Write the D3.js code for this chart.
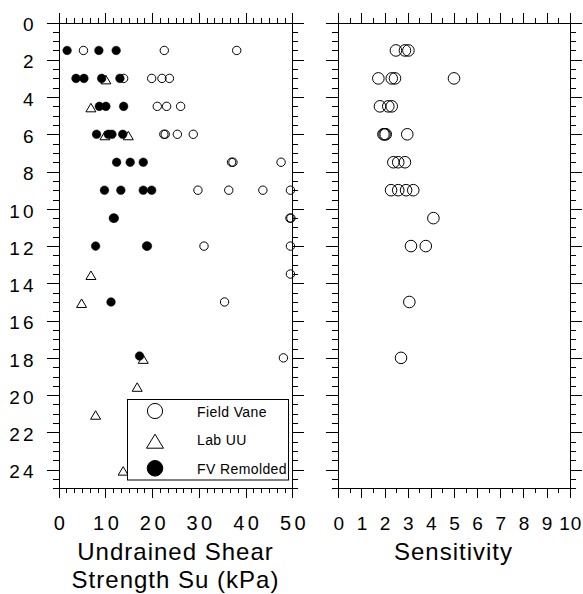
<!DOCTYPE html>
<html><head><meta charset="utf-8">
<script src="https://cdn.jsdelivr.net/npm/d3@7"></script>
<style>
html,body{margin:0;padding:0;background:#fff;}
svg{display:block;}
.ax path,.ax line{stroke:#000;stroke-width:1;shape-rendering:crispEdges;}
text{font-family:"Liberation Sans",Arial,sans-serif;fill:#000;}
</style></head>
<body>
<script>
// ---------- DATA ----------
// Field Vane (open circles): depth (m), Su (kPa)
const fvDepth = [1.5,1.5,1.5, 3,3,3,3, 4.5,4.5,4.5, 6,6,6,6, 7.5,7.5,7.5, 9,9,9,9, 10.5,10.5, 12,12, 13.5, 15, 18];
const fvSu    = [5.3,22.6,38.1, 13.9,19.9,22.1,23.7, 21.1,23.1,26.1, 22.5,22.8,25.4,28.8, 37.0,37.3,47.6, 29.8,36.4,43.7,49.6, 49.5,49.7, 31.1,49.6, 49.6, 35.5, 48.1];
// Lab UU (open triangles)
const uuDepth = [3, 4.5, 6, 6, 13.5, 15, 18, 19.5, 21, 24];
const uuSu    = [10.1, 6.9, 9.9, 14.9, 6.9, 4.9, 18.1, 16.8, 7.9, 13.8];
// FV Remolded (filled circles)
const remDepth = [1.5,1.5,1.5, 3,3,3,3, 4.5,4.5,4.5, 6,6,6,6, 7.5,7.5,7.5, 9,9,9,9, 10.5,10.5, 12,12,12, 15, 17.9];
const remSu    = [1.8,8.6,12.3, 3.7,5.4,9.2,13.1, 8.7,10.1,13.9, 8.1,10.6,11.4,13.7, 12.4,15.3,18.1, 9.8,13.3,18.1,19.9, 11.7,11.9, 7.9,18.8,19.0, 11.2, 17.3];
// Sensitivity (open circles, right panel)
const sensDepth = [1.5,1.5,1.5, 3,3,3,3, 4.5,4.5,4.5, 6,6,6,6, 7.5,7.5,7.5, 9,9,9,9, 10.5, 12,12, 15, 18];
const sensVal   = [2.49,2.88,3.03, 1.73,2.31,2.45,5.0, 1.80,2.16,2.31, 1.95,2.0,2.05,2.98, 2.38,2.59,2.88, 2.28,2.59,2.93,3.24, 4.11, 3.14,3.78, 3.07, 2.71];
// Axis ticks / labels
const depthMajor = [0,2,4,6,8,10,12,14,16,18,20,22,24];
const suMajor = [0,10,20,30,40,50];
const sensMajor = [0,1,2,3,4,5,6,7,8,9,10];
const legendLabels = ["Field Vane","Lab UU","FV Remolded"];
const titleSu = ["Undrained Shear","Strength Su (kPa)"];
const titleSens = "Sensitivity";

// ---------- LAYOUT ----------
const W = 583, H = 594;
const svg = d3.select("body").append("svg").attr("width",W).attr("height",H);

const y = d3.scaleLinear().domain([0,25]).range([22.5,488.3]);
const xSu = d3.scaleLinear().domain([0,50]).range([58.7,292.3]);
const xS = d3.scaleLinear().domain([0,10]).range([338.3,569.7]);

const depthMinor = d3.range(0.5,25.01,0.5).filter(v=>Math.abs(v/2-Math.round(v/2))>1e-6);
const suMinor = d3.range(0,50.01,10/6).filter(v=>Math.abs(v/10-Math.round(v/10))>1e-6);
const sensMinor = d3.range(0.5,10,1);

function frame(x, ticksMajor, ticksMinor, yLabels, xFs, xLs){
  const [x0,x1] = x.range(), [y0,y1] = y.range();
  // top
  svg.append("g").attr("class","ax").attr("transform",`translate(0,${y0})`)
    .call(d3.axisTop(x).tickValues(ticksMajor).tickSize(10).tickSizeOuter(0).tickFormat(""));
  svg.append("g").attr("class","ax").attr("transform",`translate(0,${y0})`)
    .call(d3.axisTop(x).tickValues(ticksMinor).tickSize(5).tickSizeOuter(0).tickFormat(""))
    .select(".domain").remove();
  // bottom
  const gb = svg.append("g").attr("class","ax").attr("transform",`translate(0,${y1})`)
    .call(d3.axisBottom(x).tickValues(ticksMajor).tickSize(10).tickSizeOuter(0).tickFormat(d3.format("d")));
  gb.selectAll("text").attr("font-size",xFs).attr("font-family",null)
    .style("letter-spacing",xLs+"px").attr("x",xLs/2).attr("y",41.7).attr("dy",null);
  svg.append("g").attr("class","ax").attr("transform",`translate(0,${y1})`)
    .call(d3.axisBottom(x).tickValues(ticksMinor).tickSize(5).tickSizeOuter(0).tickFormat(""))
    .select(".domain").remove();
  // left
  const gl = svg.append("g").attr("class","ax").attr("transform",`translate(${x0},0)`)
    .call(d3.axisLeft(y).tickValues(depthMajor).tickSize(12).tickSizeOuter(0)
      .tickFormat(yLabels ? d3.format("d") : ""));
  gl.selectAll("text").attr("font-size",19).attr("font-family",null).style("letter-spacing","3px")
    .attr("x",-(x0-33.5)+3).attr("y",8.2).attr("dy",null);
  svg.append("g").attr("class","ax").attr("transform",`translate(${x0},0)`)
    .call(d3.axisLeft(y).tickValues(depthMinor).tickSize(6).tickSizeOuter(0).tickFormat(""))
    .select(".domain").remove();
  // right
  svg.append("g").attr("class","ax").attr("transform",`translate(${x1},0)`)
    .call(d3.axisRight(y).tickValues(depthMajor).tickSize(12).tickSizeOuter(0).tickFormat(""));
  svg.append("g").attr("class","ax").attr("transform",`translate(${x1},0)`)
    .call(d3.axisRight(y).tickValues(depthMinor).tickSize(6).tickSizeOuter(0).tickFormat(""))
    .select(".domain").remove();
}

frame(xSu, suMajor, suMinor, true, 20, 3.5);
frame(xS, sensMajor, sensMinor, false, 19, 1);

// ---------- MARKS ----------
const tri = (w,h)=>`M0,${-h*0.45}L${w/2},${h*0.55}L${-w/2},${h*0.55}Z`;

const pSu = svg.append("g");
pSu.selectAll("circle.fv").data(d3.zip(fvDepth,fvSu)).join("circle")
  .attr("cx",d=>xSu(d[1])).attr("cy",d=>y(d[0])).attr("r",4.2)
  .attr("fill","none").attr("stroke","#000").attr("stroke-width",1);
pSu.selectAll("path.uu").data(d3.zip(uuDepth,uuSu)).join("path")
  .attr("d",tri(10,8.5)).attr("transform",d=>`translate(${xSu(d[1])},${y(d[0])+0.8})`)
  .attr("fill","none").attr("stroke","#000").attr("stroke-width",1);
pSu.selectAll("circle.rem").data(d3.zip(remDepth,remSu)).join("circle")
  .attr("cx",d=>xSu(d[1])).attr("cy",d=>y(d[0])).attr("r",4.3)
  .attr("fill","#000").attr("stroke","#000").attr("stroke-width",0.5);

svg.append("g").selectAll("circle").data(d3.zip(sensDepth,sensVal)).join("circle")
  .attr("cx",d=>xS(d[1])).attr("cy",d=>y(d[0])).attr("r",5.8)
  .attr("fill","none").attr("stroke","#000").attr("stroke-width",1);

// ---------- LEGEND ----------
const lg = svg.append("g");
lg.append("rect").attr("x",127.5).attr("y",399.5).attr("width",161).attr("height",80.5)
  .attr("fill","#fff").attr("stroke","#000").attr("stroke-width",1);
const ly = [411, 440.5, 468.3];
lg.append("circle").attr("cx",155).attr("cy",ly[0]).attr("r",7.6).attr("fill","none").attr("stroke","#000");
lg.append("path").attr("d",tri(17,14)).attr("transform",`translate(155,${ly[1]})`).attr("fill","none").attr("stroke","#000");
lg.append("circle").attr("cx",155).attr("cy",ly[2]).attr("r",7.8).attr("fill","#000").attr("stroke","#000");
lg.selectAll("text").data(legendLabels).join("text")
  .attr("x",197).attr("y",(d,i)=>[416.5,445,473.5][i])
  .attr("font-size",14).style("letter-spacing","0.4px").text(d=>d);

// ---------- TITLES ----------
svg.append("g").selectAll("text").data(titleSu).join("text")
  .attr("x",175.5).attr("y",(d,i)=>[560,588][i]).attr("text-anchor","middle")
  .attr("font-size",24).style("letter-spacing","1px").text(d=>d);
svg.append("text").attr("x",453.5).attr("y",560).attr("text-anchor","middle")
  .attr("font-size",24).style("letter-spacing","1px").text(titleSens);
</script>
</body></html>
